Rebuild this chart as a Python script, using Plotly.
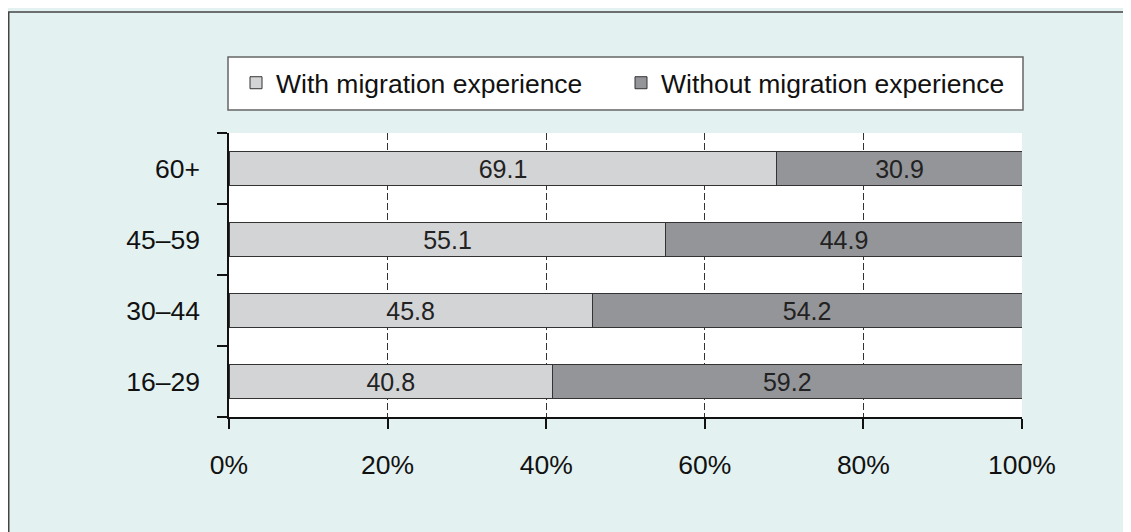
"""Stacked horizontal bars: share with / without migration experience by age group."""

import plotly.graph_objects as go

# ---------------------------------------------------------------------------
# Data
# ---------------------------------------------------------------------------

age_groups = ["16–29", "30–44", "45–59", "60+"]
with_migration = [40.8, 45.8, 55.1, 69.1]
without_migration = [59.2, 54.2, 44.9, 30.9]
x_ticks = [0, 20, 40, 60, 80, 100]
x_tick_labels = ["0%", "20%", "40%", "60%", "80%", "100%"]

# ---------------------------------------------------------------------------
# Style
# ---------------------------------------------------------------------------

# the page body has an 8px margin, so screen px = figure px + 8
OFF = 8
W, H = 1131 - OFF, 532 - OFF
PANEL_BG = "#e3f1f0"
LIGHT = "#d3d4d6"
DARK = "#939598"
EDGE = "#333333"
FAMILY = "Liberation Sans, Arial, sans-serif"
FONT = dict(family=FAMILY, size=26.5, color="#111111")

# plot area on screen: x 229..1022, y 133..417
M_L, M_R, M_T, M_B = 229 - OFF, W - (1022 - OFF), 133 - OFF, H - (417 - OFF)


def px_x(s):
    """screen pixel -> paper x"""
    return (s - OFF - M_L) / (W - M_L - M_R)


def px_y(s):
    """screen pixel -> paper y"""
    return 1 - (s - OFF - M_T) / (H - M_T - M_B)


fig = go.Figure()

for name, vals, col in [
    ("With migration experience", with_migration, LIGHT),
    ("Without migration experience", without_migration, DARK),
]:
    fig.add_trace(go.Bar(
        y=age_groups, x=vals, name=name, orientation="h",
        marker=dict(color=col, line=dict(color=EDGE, width=1)),
        width=0.48,
        text=[f"{v:.1f}" for v in vals],
        textposition="inside", insidetextanchor="middle",
        textfont=dict(family=FAMILY, size=25, color="#222222"),
        hoverinfo="skip",
    ))

fig.update_layout(
    width=W, height=H,
    barmode="stack",
    paper_bgcolor=PANEL_BG,
    plot_bgcolor="white",
    font=FONT,
    uniformtext=dict(minsize=25, mode="show"),
    margin=dict(l=M_L, r=M_R, t=M_T, b=M_B, pad=0),
    showlegend=True,
    legend=dict(
        orientation="h",
        x=px_x(236), xanchor="left",
        y=px_y(83), yanchor="middle",
        bgcolor="rgba(0,0,0,0)",
        borderwidth=0,
        entrywidth=340, entrywidthmode="pixels",
        font=FONT,
        traceorder="normal",
    ),
    xaxis=dict(
        range=[0, 100],
        tickvals=x_ticks, ticktext=x_tick_labels,
        showgrid=True, gridcolor=EDGE, gridwidth=1, griddash="7px,3px",
        showline=True, linecolor="#111111", linewidth=1.5,
        ticks="outside", ticklen=10, tickcolor="#111111", tickwidth=1.5,
        ticklabelstandoff=13,
        zeroline=False, fixedrange=True,
    ),
    yaxis=dict(
        range=[-0.5, 3.5],
        type="category",
        showgrid=False,
        showline=True, linecolor="#111111", linewidth=1.5,
        ticks="outside", tickson="boundaries", ticklen=10,
        tickcolor="#111111", tickwidth=1.5,
        ticklabelstandoff=22,
        zeroline=False, fixedrange=True,
    ),
    shapes=[
        # outer panel frame (runs off the right / bottom edge)
        dict(type="rect", xref="paper", yref="paper", layer="below",
             x0=px_x(8.75), x1=px_x(1131 + 20), y0=px_y(532 + 20), y1=px_y(12),
             line=dict(color="#444444", width=1.5), fillcolor="rgba(0,0,0,0)"),
        # legend box
        dict(type="rect", xref="paper", yref="paper", layer="below",
             x0=px_x(228), x1=px_x(1023), y0=px_y(110), y1=px_y(57),
             line=dict(color="#666666", width=1.5), fillcolor="white"),
    ],
)

fig.write_html("out.html")
